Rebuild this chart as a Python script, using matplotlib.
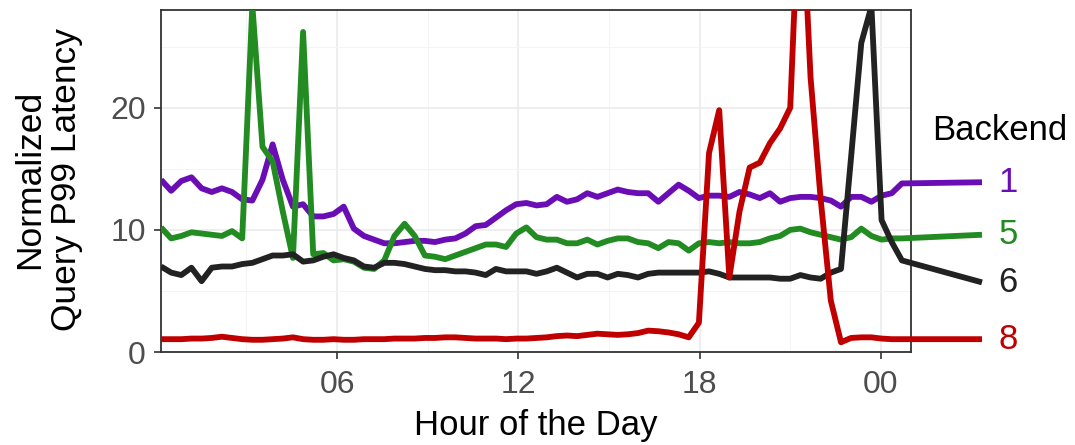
import numpy as np
import matplotlib
matplotlib.use("Agg")
import matplotlib.pyplot as plt
from matplotlib.patches import Rectangle

plt.rcParams['font.family'] = ['Liberation Sans', 'DejaVu Sans']

# sampling grid (~20 min) + end point used for the direct labels
hours = list(np.round(0.17 + 0.336 * np.arange(74), 3)) + [27.35]

backend_1 = [14.1, 13.2, 14.0, 14.3, 13.4, 13.1, 13.4, 13.1, 12.5, 12.4,
             14.1, 17.0, 14.1, 11.9, 12.1, 11.1, 11.1, 11.3, 11.9, 10.1,
             9.5, 9.2, 8.9, 8.9, 9.0, 9.1, 9.1, 9.0, 9.2, 9.3,
             9.7, 10.3, 10.4, 11.0, 11.6, 12.1, 12.2, 12.0, 12.1, 12.7,
             12.3, 12.5, 13.0, 12.7, 13.0, 13.3, 13.1, 13.0, 13.0, 12.3,
             13.0, 13.7, 13.2, 12.6, 12.8, 12.8, 12.7, 13.1, 12.9, 12.6,
             13.0, 12.3, 12.6, 12.7, 12.7, 12.6, 12.4, 11.9, 12.7, 12.7,
             12.3, 12.8, 13.0, 13.8, 13.9]
backend_5 = [10.2, 9.3, 9.5, 9.8, 9.7, 9.6, 9.5, 9.9, 9.3, 28.4,
             16.8, 15.6, 11.5, 7.7, 26.2, 8.0, 8.1, 7.5, 7.6, 7.4,
             6.9, 6.8, 7.5, 9.5, 10.5, 9.5, 7.9, 7.8, 7.6, 7.9,
             8.2, 8.5, 8.8, 8.8, 8.6, 9.7, 10.2, 9.4, 9.2, 9.2,
             8.9, 8.9, 9.2, 8.8, 9.1, 9.3, 9.3, 9.0, 8.9, 8.5,
             9.0, 8.9, 8.3, 8.9, 9.0, 8.9, 9.0, 8.9, 8.9, 9.0,
             9.3, 9.5, 10.0, 10.1, 9.8, 9.6, 9.4, 9.2, 9.4, 10.1,
             9.5, 9.2, 9.3, 9.3, 9.6]
backend_6 = [7.0, 6.5, 6.3, 6.9, 5.8, 6.9, 7.0, 7.0, 7.2, 7.3,
             7.6, 7.9, 7.9, 8.0, 7.4, 7.5, 7.8, 8.0, 7.7, 7.5,
             7.0, 6.9, 7.3, 7.3, 7.2, 7.0, 6.8, 6.7, 6.7, 6.6,
             6.6, 6.5, 6.3, 6.8, 6.6, 6.6, 6.6, 6.4, 6.6, 6.9,
             6.5, 6.1, 6.4, 6.4, 6.1, 6.4, 6.3, 6.1, 6.4, 6.5,
             6.5, 6.5, 6.5, 6.5, 6.6, 6.4, 6.1, 6.1, 6.1, 6.1,
             6.1, 6.0, 6.0, 6.3, 6.1, 6.0, 6.5, 6.8, 16.0, 25.3,
             28.3, 10.8, 9.0, 7.5, 5.7]
backend_8 = [1.05, 1.05, 1.05, 1.1, 1.1, 1.15, 1.25, 1.15, 1.05, 1.0,
             1.0, 1.05, 1.1, 1.2, 1.05, 1.0, 1.0, 1.05, 1.0, 1.0,
             1.05, 1.05, 1.05, 1.1, 1.1, 1.1, 1.15, 1.15, 1.2, 1.2,
             1.15, 1.1, 1.1, 1.1, 1.05, 1.1, 1.1, 1.15, 1.2, 1.3,
             1.35, 1.3, 1.4, 1.5, 1.45, 1.4, 1.45, 1.55, 1.75, 1.7,
             1.6, 1.45, 1.2, 2.4, 16.3, 19.8, 6.1, 11.5, 15.1, 15.5,
             17.1, 18.3, 20.0, 40.0, 22.5, 12.5, 4.2, 0.8, 1.15, 1.2,
             1.2, 1.1, 1.05, 1.05, 1.05]

backends = ['1', '5', '6', '8']
series = [backend_1, backend_5, backend_6, backend_8]
colors = ['#6A0DB5', '#228B22', '#222222', '#C00000']

fig = plt.figure(figsize=(10.75, 4.45), dpi=100)
ax = fig.add_axes([161/1075, 93/445, 750/1075, 342/445])

# lines run past the right edge of the panel, but not above it
clip = Rectangle((0, 0), 1.5, 1, transform=ax.transAxes)
for name, vals, c in zip(backends, series, colors):
    line, = ax.plot(hours, vals, color=c, lw=4.2,
                    solid_joinstyle='round', solid_capstyle='butt', zorder=3)
    line.set_clip_path(clip)
    ax.text(27.9, vals[-1], name, color=c, fontsize=25,
            ha='left', va='center', clip_on=False)

ax.text(25.7, 18.1, 'Backend', fontsize=25, color='black',
        ha='left', va='center', clip_on=False)

ax.set_xlim(0.17, 25.0)
ax.set_ylim(0, 28)
ax.set_xticks([6, 12, 18, 24])
ax.set_xticklabels(['06', '12', '18', '00'])
ax.set_xticks([3, 9, 15, 21], minor=True)
ax.set_yticks([0, 10, 20])
ax.set_yticks([5, 15, 25], minor=True)

ax.grid(which='major', color='#EBEBEB', lw=1.2)
ax.grid(which='minor', color='#F4F4F4', lw=0.7)
ax.set_axisbelow(True)

for sp in ax.spines.values():
    sp.set_color('#333333')
    sp.set_linewidth(1.3)
ax.tick_params(which='major', length=5, width=1.2, color='#333333',
               labelcolor='#4D4D4D', labelsize=23)
ax.tick_params(axis='x', which='major', pad=8)
ax.tick_params(axis='y', which='major', pad=6)
ax.tick_params(which='minor', length=0)

fig.text(48/1075, 0.596, 'Normalized\nQuery P99 Latency', rotation=90,
         ha='center', va='center', fontsize=25.5, linespacing=1.12)
fig.text(536/1075, 19/445, 'Hour of the Day', ha='center', va='center',
         fontsize=25)

plt.savefig('out.png', dpi=100)
